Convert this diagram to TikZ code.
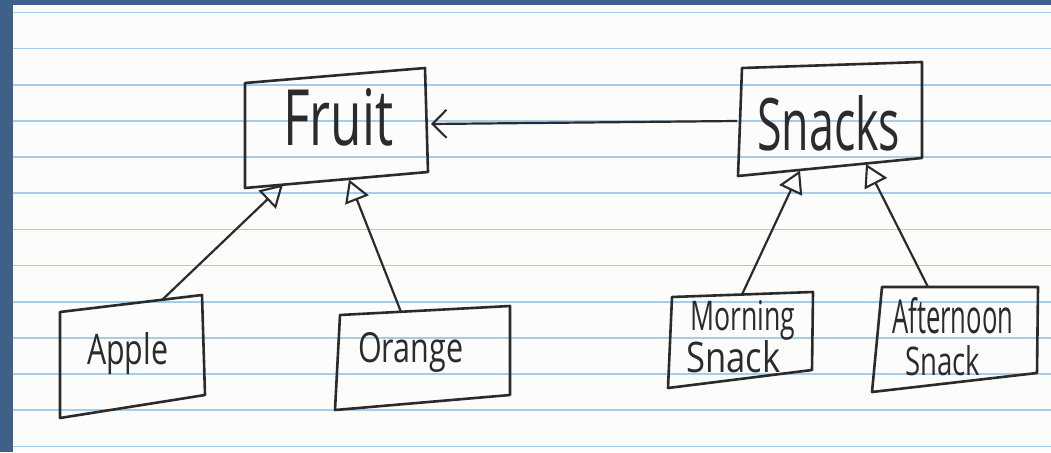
\documentclass[tikz,border=0pt]{standalone}
\usepackage{fontspec}
\setmainfont{Open Sans}
\usetikzlibrary{arrows.meta}
\definecolor{frame}{HTML}{3D6189}
\definecolor{rule}{HTML}{A3CDEA}
\definecolor{ink}{HTML}{2B2B2B}
\definecolor{paper}{HTML}{FCFCFB}
\begin{document}
\begin{tikzpicture}[x=1pt,y=-1pt,
  box/.style={draw=ink,line width=2.6pt,line join=round},
  link/.style={draw=ink,line width=2.2pt},
  inherit/.style={link,-{Triangle[open,length=22pt,width=25pt,line width=2.1pt]}},
  assoc/.style={link,-{Straight Barb[length=14pt,width=28pt,line width=2.1pt]}},
  lbl/.style={inner sep=0pt,anchor=base west,text=ink}]
\useasboundingbox (0,0) rectangle (1051,452);
% paper
\fill[frame] (0,0) rectangle (1051,452);
\fill[paper] (13,5) rectangle (1051,452);
\foreach \k in {0,...,12}
  \draw[rule,line width=1.6pt] ({13},{12.5+36.15*\k}) -- ({1051},{12.5+36.15*\k});
% boxes
\draw[box] (245,83) -- (425,68) -- (428,172) -- (245,188) -- cycle;
\draw[box] (742,68) -- (922,62) -- (922,158) -- (738,176) -- cycle;
\draw[box] (60,312) -- (202,295) -- (205,395) -- (60,418) -- cycle;
\draw[box] (340,315) -- (510,306) -- (510,395) -- (335,410) -- cycle;
\draw[box] (672,297) -- (813,292) -- (812,370) -- (668,388) -- cycle;
\draw[box] (882,287) -- (1038,287) -- (1037,373) -- (872,392) -- cycle;
% labels
\node[lbl] (fruit) at (283,145) {\resizebox{110pt}{57pt}{Fruit}};
\node[lbl] (snacks) at (757,150) {\resizebox{143pt}{55pt}{Snacks}};
\node[lbl] (apple) at (87,364) {\resizebox{81pt}{32pt}{Apple}};
\node[lbl] (orange) at (358,362) {\resizebox{105pt}{30pt}{Orange}};
\node[lbl] (morning1) at (690,330) {\resizebox{105pt}{30pt}{Morning}};
\node[lbl] (morning2) at (686,372) {\resizebox{94pt}{32pt}{Snack}};
\node[lbl] (after1) at (892,333) {\resizebox{121pt}{36pt}{Afternoon}};
\node[lbl] (after2) at (905,375) {\resizebox{75pt}{30pt}{Snack}};
% attachment points
\coordinate (fruitR) at (431,124);
\coordinate (fruitB1) at (283,184.5);
\coordinate (fruitB2) at (349,179.5);
\coordinate (snacksL) at (737,121);
\coordinate (snacksB1) at (800,170.5);
\coordinate (snacksB2) at (866,164);
\coordinate (appleT) at (162,300);
\coordinate (orangeT) at (401,312);
\coordinate (morningT) at (742,294.5);
\coordinate (afterT) at (928,287);
% connectors
\draw[assoc] (snacksL) -- (fruitR);
\draw[inherit] (appleT) -- (fruitB1);
\draw[inherit] (orangeT) -- (fruitB2);
\draw[inherit] (morningT) -- (snacksB1);
\draw[inherit] (afterT) -- (snacksB2);
\end{tikzpicture}
\end{document}
